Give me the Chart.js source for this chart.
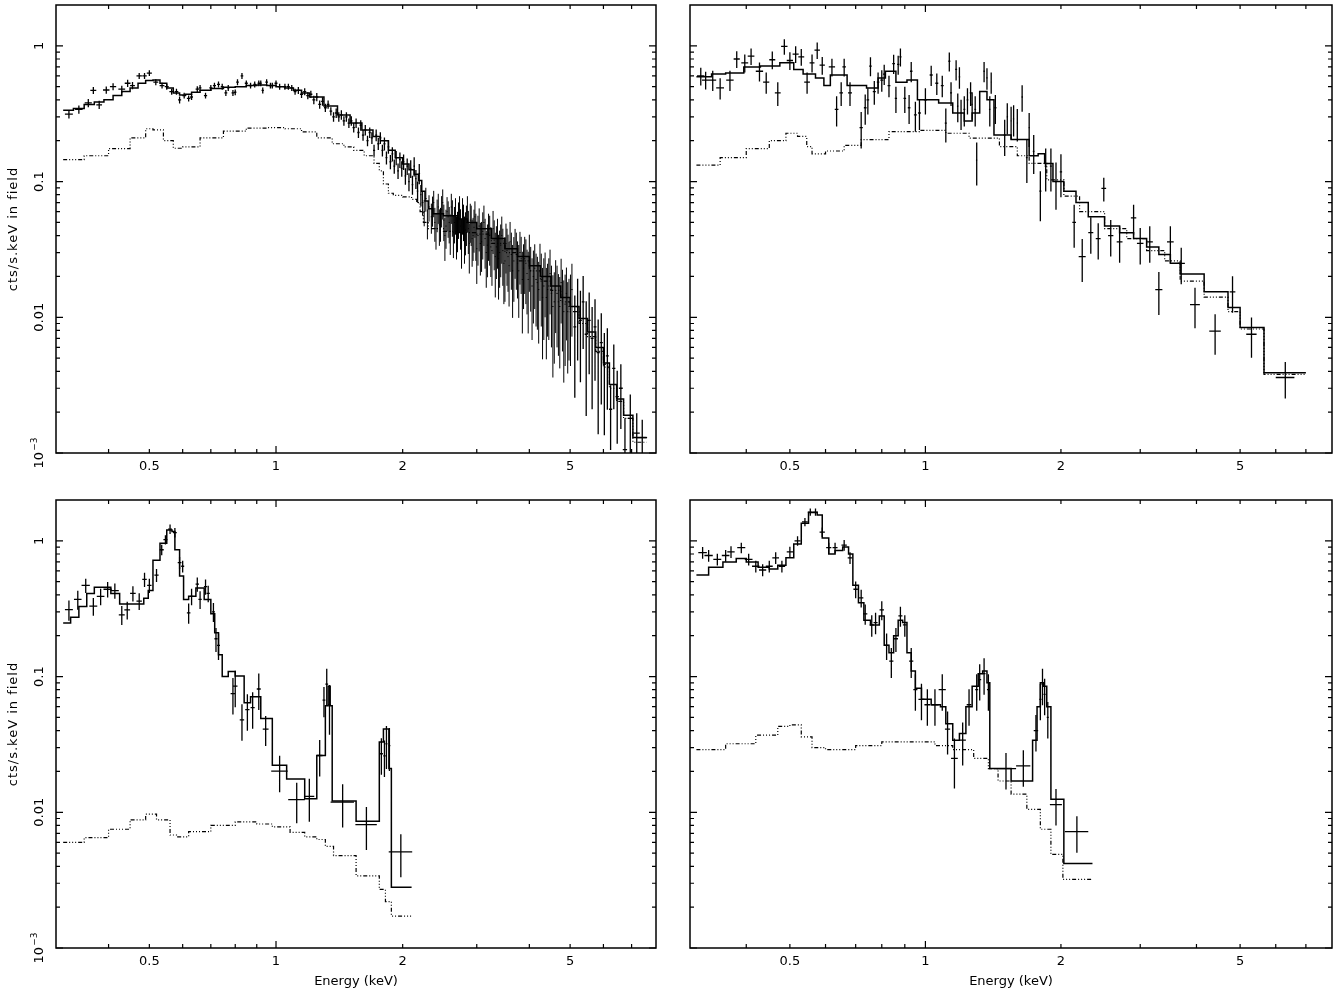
<!DOCTYPE html>
<html><head><meta charset="utf-8">
<script src="https://cdn.jsdelivr.net/npm/chart.js@4.4.1/dist/chart.umd.min.js"></script>
<style>
html,body{margin:0;padding:0;background:#fff;width:1334px;height:992px;overflow:hidden;}
canvas{position:absolute;}
</style></head><body>
<canvas id="c0"></canvas><canvas id="c1"></canvas><canvas id="c2"></canvas><canvas id="c3"></canvas>
<script>
// ---------- axes ----------
const xRange = [0.3, 8];
const yRange = [0.001, 2];
const xTickValues = [0.5, 1, 2, 5];
const xTickLabels = ['0.5', '1', '2', '5'];
const xMinorTicks = [0.4, 0.5, 0.6, 0.7, 0.8, 0.9, 2, 3, 4, 5, 6, 7];
const xMajorTicks = [1];
const yTickValues = [0.001, 0.01, 0.1, 1];
const yTickLabels = ['10|-3', '0.01', '0.1', '1'];
const yTitle = 'cts/s.keV in field';
const xTitle = 'Energy (keV)';

// ---------- top-left panel: [energy, half-width, rate, relative error] ----------
const tlSpectrum = [
[0.322,.007,0.314,.07],[0.340,.007,0.34,.07],[0.358,.007,0.38,.07],[0.368,.006,0.47,.06],[0.380,.006,0.368,.07],
[0.395,.007,0.473,.06],[0.41,.007,0.50,.06],[0.43,.008,0.48,.06],[0.444,.007,0.53,.06],[0.456,.006,0.51,.06],
[0.473,.007,0.60,.05],[0.487,.006,0.60,.05],[0.50,.007,0.63,.05],[0.518,.007,0.54,.05],[0.536,.007,0.51,.05],
[0.55,.006,0.50,.05],[0.565,.007,0.46,.05],[0.58,.006,0.46,.05],[0.59,.005,0.40,.06],[0.605,.006,0.43,.05],
[0.62,.006,0.41,.05],[0.63,.005,0.42,.05],[0.65,.006,0.48,.05],[0.66,.005,0.49,.05],[0.68,.006,0.43,.05],
[0.70,.006,0.49,.05],[0.714,.006,0.51,.05],[0.73,.006,0.52,.05],[0.745,.006,0.50,.05],[0.76,.006,0.45,.05],
[0.77,.005,0.49,.05],[0.79,.006,0.45,.05],[0.80,.005,0.455,.05],[0.81,.006,0.54,.05],[0.83,.006,0.60,.05],
[0.85,.007,0.53,.05],[0.87,.007,0.51,.05],[0.89,.007,0.52,.05],[0.91,.006,0.53,.05],[0.92,.005,0.53,.05],
[0.93,.006,0.47,.05],[0.95,.007,0.54,.05],[0.97,.007,0.51,.05],[0.98,.006,0.51,.05],[1.00,.008,0.53,.05],
[1.02,.008,0.50,.05],[1.05,.009,0.50,.05],[1.07,.009,0.50,.05],[1.09,.009,0.49,.05],[1.11,.009,0.46,.05],
[1.13,.01,0.47,.06],[1.15,.01,0.44,.06],[1.17,.01,0.46,.06],[1.19,.01,0.43,.06],[1.21,.01,0.44,.06],
[1.23,.01,0.40,.07],[1.25,.01,0.42,.07],[1.27,.01,0.37,.07],[1.29,.01,0.39,.07],[1.31,.01,0.35,.07],
[1.33,.01,0.37,.07],[1.35,.01,0.33,.07],[1.37,.01,0.30,.08],[1.39,.01,0.32,.08],[1.41,.01,0.30,.08],
[1.43,.01,0.31,.08],[1.45,.01,0.28,.08],[1.47,.01,0.30,.08],[1.49,.01,0.27,.08],[1.51,.01,0.28,.08],
[1.53,.01,0.25,.08],[1.55,.01,0.27,.08],[1.57,.01,0.23,.09],[1.59,.01,0.26,.09],[1.61,.01,0.22,.09],
[1.63,.01,0.24,.09],[1.65,.01,0.20,.09],[1.67,.01,0.23,.09],[1.69,.01,0.21,.1],[1.71,.01,0.17,.1],
[1.73,.01,0.22,.1],[1.75,.01,0.19,.1],[1.77,.01,0.21,.1],[1.79,.01,0.17,.1],[1.81,.01,0.19,.11],
[1.83,.01,0.15,.11],[1.85,.01,0.18,.11],[1.87,.01,0.14,.12],[1.89,.01,0.16,.12],[1.91,.01,0.13,.12],
[1.93,.01,0.15,.12],[1.95,.01,0.12,.13],[1.97,.01,0.145,.13],[1.99,.01,0.125,.13],[2.01,.01,0.14,.13],
[2.03,.01,0.11,.14],[2.05,.01,0.13,.14],[2.07,.01,0.10,.15],[2.09,.01,0.125,.15],[2.11,.01,0.095,.16],
[2.13,.01,0.13,.16],[2.15,.01,0.105,.16],[2.17,.01,0.085,.18],[2.19,.01,0.115,.17],[2.21,.01,0.08,.18],
[2.23,.01,0.07,.2],[2.25,.01,0.06,.22],[2.27,.01,0.075,.2],[2.29,.01,0.05,.25],[2.31,.01,0.065,.22],
[2.34,.0075,0.055,.25],[2.355,.0075,0.062,.25],[2.37,.0075,0.07,.22],[2.385,.0075,0.05,.28],[2.40,.0075,0.045,.3],
[2.415,.0075,0.058,.27],[2.43,.0075,0.065,.25],[2.445,.0075,0.048,.3],[2.46,.0075,0.05,.28],[2.475,.0075,0.062,.26],
[2.49,.0075,0.07,.25],[2.505,.0075,0.052,.3],[2.52,.0075,0.04,.35],[2.535,.0075,0.047,.32],[2.55,.0075,0.06,.28],
[2.565,.0075,0.055,.3],[2.58,.0075,0.05,.3],[2.595,.0075,0.043,.33],[2.61,.0075,0.065,.25],[2.625,.0075,0.056,.3],
[2.64,.0075,0.042,.35],[2.655,.0075,0.05,.3],[2.67,.0075,0.058,.3],[2.685,.0075,0.041,.35],[2.70,.0075,0.045,.33],
[2.715,.0075,0.054,.3],[2.73,.0075,0.06,.3],[2.745,.0075,0.047,.33],[2.76,.0075,0.038,.4],[2.775,.0075,0.058,.3],
[2.79,.0075,0.052,.3],[2.805,.0075,0.04,.38],[2.82,.0075,0.044,.35],[2.835,.0075,0.05,.33],[2.85,.0075,0.06,.3],
[2.865,.0075,0.045,.35],[2.88,.0075,0.035,.4],[2.895,.0075,0.052,.32],[2.91,.0075,0.05,.33],[2.925,.0075,0.038,.38],
[2.94,.0075,0.04,.35],[2.955,.0075,0.046,.35],[2.97,.0075,0.055,.3],[2.985,.0075,0.042,.38],
[3.00,.01,0.032,.45],[3.02,.01,0.04,.4],[3.04,.01,0.047,.35],[3.06,.01,0.035,.42],[3.08,.01,0.036,.4],
[3.10,.01,0.043,.38],[3.12,.01,0.05,.33],[3.14,.01,0.038,.4],[3.16,.01,0.03,.45],[3.18,.01,0.034,.42],
[3.20,.01,0.042,.38],[3.22,.01,0.04,.4],[3.24,.01,0.033,.4],[3.26,.01,0.031,.45],[3.28,.01,0.045,.35],
[3.30,.01,0.037,.4],[3.32,.01,0.028,.5],[3.34,.01,0.033,.42],[3.36,.01,0.038,.4],[3.38,.01,0.027,.5],
[3.40,.01,0.03,.45],[3.42,.01,0.034,.42],[3.44,.01,0.04,.38],[3.46,.01,0.031,.45],[3.48,.01,0.025,.5],
[3.50,.01,0.026,.5],[3.52,.01,0.035,.4],[3.54,.01,0.031,.45],[3.56,.01,0.028,.45],[3.58,.01,0.024,.5],
[3.60,.01,0.036,.4],[3.625,.012,0.029,.45],[3.65,.012,0.022,.55],[3.675,.012,0.026,.5],[3.70,.012,0.032,.4],
[3.725,.012,0.029,.45],[3.75,.012,0.025,.45],[3.775,.012,0.022,.55],[3.80,.012,0.03,.42],[3.825,.012,0.027,.45],
[3.85,.012,0.019,.6],[3.875,.012,0.023,.5],[3.90,.012,0.027,.45],[3.925,.012,0.025,.5],[3.95,.012,0.021,.5],
[3.975,.012,0.019,.6],[4.00,.012,0.028,.45],[4.03,.015,0.022,.5],[4.06,.015,0.017,.6],[4.09,.015,0.02,.55],
[4.12,.015,0.023,.5],[4.15,.015,0.019,.55],[4.18,.015,0.018,.55],[4.21,.015,0.016,.6],[4.24,.015,0.024,.45],
[4.27,.015,0.019,.55],[4.30,.015,0.014,.65],[4.33,.015,0.017,.6],[4.36,.015,0.02,.5],[4.39,.015,0.014,.65],
[4.42,.015,0.016,.55],[4.45,.015,0.017,.6],[4.48,.015,0.021,.5],[4.515,.017,0.015,.6],[4.55,.017,0.012,.7],
[4.585,.017,0.013,.65],[4.62,.017,0.017,.55],[4.655,.017,0.015,.6],[4.69,.017,0.013,.6],[4.725,.017,0.012,.65],
[4.76,.017,0.018,.5],[4.795,.017,0.014,.6],[4.83,.017,0.011,.7],[4.865,.017,0.0125,.65],[4.90,.017,0.015,.55],
[4.935,.017,0.011,.65],[4.97,.017,0.012,.6],[5.01,.02,0.0125,.65],[5.05,.02,0.016,.55],
[5.13,.04,0.0085,.7],[5.21,.04,0.012,.6],[5.29,.04,0.0095,.65],
[5.37,.04,0.013,.55],[5.46,.045,0.0075,.75],[5.55,.045,0.0095,.6],[5.64,.045,0.007,.7],[5.73,.045,0.0085,.6],
[5.83,.05,0.0055,.75],[5.93,.05,0.0065,.65],[6.03,.05,0.0045,.7],[6.13,.05,0.0052,.6],[6.24,.055,0.0021,.5],
[6.35,.055,0.0042,.5],[6.47,.06,0.0026,.55],[6.6,.07,0.003,.5],[6.75,.08,0.00106,.7],[6.95,.1,0.0018,.5],
[7.2,.12,0.0014,.4],[7.42,.2,0.0013,.35]
];
// model / background: [left bin edge, value] (last row = right end)
const tlModel = [[0.312,0.335],[0.33,0.345],[0.35,0.37],[0.37,0.385],[0.39,0.40],[0.41,0.43],[0.43,0.46],[0.45,0.49],
[0.47,0.53],[0.49,0.555],[0.51,0.56],[0.53,0.53],[0.55,0.49],[0.57,0.45],[0.59,0.435],[0.61,0.44],[0.63,0.455],
[0.66,0.47],[0.70,0.485],[0.75,0.495],[0.80,0.50],[0.85,0.51],[0.90,0.515],[0.95,0.51],[1.00,0.50],[1.05,0.49],
[1.10,0.47],[1.15,0.45],[1.20,0.42],[1.30,0.36],[1.40,0.31],[1.50,0.27],[1.60,0.24],[1.70,0.215],[1.77,0.20],
[1.85,0.17],[1.92,0.15],[2.00,0.135],[2.07,0.122],[2.13,0.113],[2.18,0.102],[2.22,0.085],[2.26,0.072],[2.30,0.063],
[2.36,0.058],[2.50,0.056],[2.70,0.053],[2.85,0.05],[3.00,0.045],[3.25,0.038],[3.50,0.032],[3.75,0.028],[4.00,0.024],
[4.25,0.020],[4.50,0.017],[4.75,0.014],[5.00,0.012],[5.25,0.0098],[5.50,0.0078],[5.75,0.006],[6.00,0.0046],
[6.2,0.0032],[6.45,0.0025],[6.7,0.0019],[7.05,0.0013],[7.6,0.0013]];
const tlBackground = [[0.312,0.145],[0.35,0.155],[0.40,0.175],[0.45,0.21],[0.49,0.245],[0.51,0.24],[0.54,0.20],
[0.57,0.176],[0.60,0.18],[0.66,0.21],[0.75,0.235],[0.85,0.248],[0.95,0.25],[1.05,0.245],[1.15,0.232],[1.25,0.21],
[1.36,0.19],[1.45,0.18],[1.53,0.17],[1.62,0.155],[1.71,0.136],[1.76,0.12],[1.80,0.096],[1.85,0.082],[1.90,0.079],
[2.0,0.077],[2.1,0.074],[2.16,0.07],[2.2,0.06],[2.24,0.05],[2.3,0.045],[2.5,0.043],[2.7,0.042],[3.0,0.041],
[3.25,0.035],[3.5,0.03],[3.75,0.026],[4.0,0.022],[4.25,0.0185],[4.5,0.0158],[4.75,0.013],[5.0,0.011],[5.25,0.009],
[5.5,0.0072],[5.75,0.0056],[6.0,0.0043],[6.2,0.003],[6.45,0.0024],[6.7,0.0018],[7.05,0.0012],[7.6,0.0012]];

// ---------- top-right panel ----------
const trSpectrum = [
[0.317,.006,0.60,.15],[0.325,.006,0.56,.15],[0.337,.006,0.56,.17],[0.35,.007,0.49,.18],[0.368,.007,0.56,.17],
[0.381,.006,0.80,.14],[0.397,.007,0.75,.15],[0.41,.007,0.84,.14],[0.428,.008,0.65,.16],[0.443,.007,0.54,.18],
[0.457,.007,0.79,.15],[0.47,.007,0.45,.2],[0.486,.008,0.99,.13],[0.50,.008,0.78,.15],[0.515,.008,0.87,.14],
[0.53,.008,0.83,.14],[0.546,.008,0.54,.18],[0.56,.007,0.75,.15],[0.575,.008,0.93,.14],[0.59,.008,0.72,.15],
[0.62,.01,0.70,.15],[0.635,.006,0.34,.25],[0.65,.006,0.45,.2],[0.66,.006,0.70,.15],[0.68,.007,0.45,.2],
[0.72,.006,0.25,.3],[0.735,.005,0.35,.25],[0.745,.005,0.40,.22],[0.755,.005,0.71,.16],[0.77,.006,0.46,.2],
[0.785,.005,0.54,.18],[0.80,.006,0.56,.18],[0.81,.005,0.62,.17],[0.83,.006,0.51,.18],[0.85,.006,0.74,.16],
[0.86,.005,0.41,.22],[0.87,.005,0.73,.16],[0.88,.005,0.83,.15],[0.90,.006,0.41,.22],[0.92,.006,0.35,.24],
[0.93,.006,0.65,.17],[0.95,.007,0.31,.25],[0.97,.007,0.32,.25],[1.00,.008,0.40,.22],[1.03,.008,0.61,.17],
[1.06,.008,0.53,.18],[1.09,.008,0.51,.18],[1.11,.006,0.27,.28],[1.13,.006,0.77,.16],[1.14,.006,0.45,.2],
[1.17,.006,0.67,.17],[1.18,.005,0.36,.24],[1.19,.005,0.59,.18],[1.20,.005,0.32,.25],[1.22,.006,0.34,.25],
[1.24,.006,0.40,.22],[1.26,.006,0.45,.2],[1.27,.005,0.37,.23],[1.29,.006,0.34,.25],[1.30,.005,0.144,.35],
[1.35,.006,0.65,.17],[1.37,.006,0.58,.18],[1.39,.006,0.34,.25],[1.40,.005,0.54,.18],[1.43,.008,0.35,.24],
[1.50,.008,0.22,.3],[1.52,.006,0.30,.26],[1.55,.006,0.28,.27],[1.57,.006,0.29,.26],[1.60,.006,0.27,.27],
[1.64,.007,0.42,.22],[1.68,.008,0.15,.35],[1.70,.007,0.25,.28],[1.74,.008,0.167,.32],[1.80,.01,0.085,.4],
[1.85,.01,0.13,.35],[1.90,.01,0.13,.35],[1.95,.01,0.10,.38],[2.00,.012,0.118,.35],[2.14,.02,0.05,.35],
[2.23,.04,0.028,.35],[2.33,.03,0.042,.3],[2.42,.03,0.038,.3],[2.49,.03,0.089,.2],[2.58,.035,0.040,.3],
[2.7,.04,0.036,.3],[2.9,.04,0.054,.25],[3.0,.05,0.035,.3],[3.15,.05,0.036,.3],[3.3,.06,0.016,.35],
[3.5,.06,0.036,.3],[3.7,.07,0.025,.3],[3.97,.1,0.0124,.33],[4.4,.13,0.0079,.33],[4.81,.07,0.0154,.3],
[5.3,.14,0.0075,.33],[6.3,.3,0.0036,.3]
];
const trModel = [[0.31,0.593],[0.335,0.62],[0.36,0.63],[0.395,0.70],[0.43,0.71],[0.475,0.75],[0.51,0.67],[0.535,0.62],
[0.57,0.58],[0.595,0.51],[0.615,0.61],[0.67,0.51],[0.74,0.49],[0.785,0.58],[0.815,0.65],[0.86,0.54],[0.91,0.56],
[0.96,0.40],[1.07,0.38],[1.15,0.32],[1.22,0.28],[1.27,0.32],[1.32,0.46],[1.37,0.40],[1.42,0.22],[1.55,0.204],
[1.70,0.155],[1.78,0.16],[1.84,0.136],[1.92,0.10],[2.03,0.085],[2.16,0.07],[2.3,0.055],[2.5,0.047],[2.7,0.042],
[2.9,0.038],[3.1,0.033],[3.3,0.029],[3.5,0.025],[3.68,0.0208],[4.16,0.0154],[4.7,0.0118],[5.0,0.0084],
[5.65,0.0039],[7.0,0.0039]];
const trBackground = [[0.31,0.132],[0.35,0.15],[0.40,0.175],[0.45,0.2],[0.49,0.227],[0.52,0.215],[0.545,0.181],
[0.56,0.16],[0.60,0.168],[0.66,0.185],[0.72,0.204],[0.83,0.233],[0.97,0.238],[1.11,0.227],[1.25,0.209],[1.46,0.181],
[1.6,0.155],[1.7,0.136],[1.86,0.103],[2.03,0.078],[2.2,0.06],[2.5,0.045],[2.8,0.038],[3.1,0.031],[3.4,0.026],
[3.68,0.0185],[4.16,0.0141],[4.7,0.011],[5.0,0.0082],[5.65,0.0038],[7.0,0.0038]];

// ---------- bottom-left panel ----------
const blSpectrum = [
[0.322,.007,0.311,.17],[0.338,.007,0.37,.16],[0.353,.008,0.47,.12],[0.368,.008,0.33,.15],[0.383,.008,0.39,.14],
[0.398,.009,0.44,.13],[0.414,.009,0.43,.13],[0.43,.007,0.285,.16],[0.443,.007,0.31,.15],[0.457,.007,0.41,.13],
[0.473,.007,0.36,.14],[0.487,.006,0.52,.12],[0.50,.006,0.47,.12],[0.52,.006,0.56,.11],[0.535,.006,0.86,.09],
[0.546,.006,1.02,.08],[0.56,.006,1.22,.08],[0.575,.006,1.15,.08],[0.59,.006,0.69,.1],[0.60,.005,0.65,.1],
[0.62,.006,0.295,.17],[0.63,.006,0.39,.14],[0.65,.006,0.48,.12],[0.66,.006,0.37,.15],[0.68,.006,0.46,.13],
[0.69,.006,0.41,.14],[0.71,.006,0.30,.16],[0.72,.006,0.19,.2],[0.73,.006,0.17,.22],[0.79,.01,0.075,.3],
[0.80,.01,0.085,.3],[0.83,.01,0.048,.3],[0.855,.01,0.057,.3],[0.88,.01,0.059,.3],[0.91,.01,0.081,.3],
[0.945,.015,0.041,.25],[1.02,.046,0.0201,.3],[1.12,.051,0.0124,.33],[1.2,.033,0.0131,.35],[1.27,.02,0.0262,.3],
[1.30,.01,0.067,.25],[1.32,.01,0.088,.3],[1.34,.01,0.062,.4],[1.44,.092,0.0119,.35],[1.64,.096,0.0081,.35],
[1.78,.015,0.027,.3],[1.81,.012,0.026,.3],[1.83,.01,0.032,.35],[1.86,.01,0.031,.35],[1.98,.127,0.0051,.35]
];
const blModel = [[0.312,0.248],[0.325,0.274],[0.34,0.329],[0.355,0.41],[0.37,0.455],[0.405,0.41],[0.425,0.343],
[0.485,0.378],[0.497,0.43],[0.51,0.72],[0.53,0.96],[0.55,1.2],[0.566,1.17],[0.575,0.86],[0.59,0.55],[0.603,0.37],
[0.62,0.39],[0.645,0.45],[0.675,0.37],[0.70,0.29],[0.715,0.21],[0.73,0.145],[0.745,0.10],[0.77,0.109],[0.80,0.101],
[0.84,0.064],[0.87,0.071],[0.92,0.049],[0.98,0.0222],[1.06,0.0176],[1.17,0.0126],[1.25,0.0262],[1.31,0.061],
[1.33,0.085],[1.345,0.061],[1.36,0.0121],[1.55,0.0086],[1.76,0.033],[1.80,0.041],[1.855,0.021],[1.88,0.0028],
[2.10,0.0028]];
const blBackground = [[0.312,0.006],[0.35,0.0065],[0.40,0.0075],[0.45,0.0088],[0.49,0.0097],[0.52,0.0088],
[0.56,0.0068],[0.58,0.0066],[0.62,0.0072],[0.70,0.0080],[0.80,0.0085],[0.90,0.0082],[0.98,0.0078],[1.08,0.0071],
[1.17,0.0066],[1.25,0.0063],[1.31,0.0056],[1.37,0.0048],[1.55,0.0034],[1.76,0.0027],[1.82,0.0022],[1.88,0.00172],
[2.10,0.00172]];

// ---------- bottom-right panel ----------
const brSpectrum = [
[0.32,.007,0.82,.1],[0.33,.007,0.78,.1],[0.345,.007,0.73,.1],[0.36,.007,0.78,.1],[0.37,.007,0.83,.1],
[0.39,.008,0.89,.09],[0.405,.008,0.73,.1],[0.42,.008,0.65,.1],[0.435,.008,0.61,.1],[0.45,.008,0.65,.1],
[0.465,.008,0.75,.1],[0.48,.008,0.65,.1],[0.50,.008,0.83,.09],[0.52,.008,1.0,.08],[0.54,.008,1.38,.07],
[0.555,.007,1.63,.06],[0.57,.007,1.63,.06],[0.59,.008,1.16,.08],[0.61,.008,0.89,.09],[0.63,.008,0.89,.09],
[0.66,.009,0.93,.09],[0.68,.008,0.75,.1],[0.70,.008,0.44,.14],[0.72,.008,0.38,.15],[0.735,.008,0.29,.17],
[0.76,.008,0.24,.18],[0.775,.008,0.25,.18],[0.80,.009,0.31,.16],[0.82,.009,0.17,.22],[0.84,.009,0.13,.25],
[0.86,.009,0.19,.2],[0.88,.009,0.28,.17],[0.90,.009,0.24,.18],[0.93,.01,0.13,.25],[0.95,.01,0.08,.3],
[0.98,.015,0.068,.3],[1.01,.015,0.062,.3],[1.05,.02,0.062,.3],[1.09,.02,0.08,.3],[1.12,.015,0.041,.35],
[1.16,.02,0.025,.4],[1.21,.02,0.034,.35],[1.25,.015,0.062,.3],[1.30,.01,0.08,.3],[1.32,.01,0.095,.3],
[1.35,.01,0.105,.3],[1.38,.01,0.08,.3],[1.51,.08,0.021,.3],[1.65,.06,0.022,.3],[1.76,.02,0.04,.3],
[1.80,.01,0.068,.3],[1.82,.01,0.088,.3],[1.84,.01,0.074,.3],[1.87,.01,0.05,.3],[1.95,.06,0.0114,.3],
[2.17,.13,0.0072,.3]
];
const brModel = [[0.31,0.56],[0.33,0.64],[0.355,0.70],[0.38,0.74],[0.40,0.70],[0.425,0.64],[0.45,0.62],[0.47,0.66],
[0.49,0.75],[0.51,0.95],[0.53,1.35],[0.55,1.62],[0.575,1.55],[0.59,1.05],[0.61,0.80],[0.63,0.85],[0.655,0.90],
[0.675,0.80],[0.69,0.47],[0.71,0.35],[0.73,0.26],[0.755,0.24],[0.79,0.28],[0.81,0.17],[0.83,0.15],[0.85,0.20],
[0.87,0.26],[0.89,0.25],[0.91,0.15],[0.93,0.11],[0.95,0.082],[0.98,0.068],[1.03,0.062],[1.08,0.06],[1.11,0.045],
[1.15,0.034],[1.19,0.038],[1.23,0.06],[1.27,0.085],[1.31,0.105],[1.34,0.11],[1.37,0.09],[1.39,0.021],[1.55,0.017],
[1.73,0.034],[1.77,0.06],[1.80,0.09],[1.83,0.085],[1.86,0.06],[1.90,0.0125],[2.03,0.0042],[2.35,0.0042]];
const brBackground = [[0.31,0.029],[0.36,0.032],[0.42,0.037],[0.47,0.043],[0.50,0.044],[0.53,0.036],[0.56,0.03],
[0.60,0.029],[0.70,0.031],[0.80,0.033],[0.92,0.033],[1.05,0.031],[1.15,0.029],[1.28,0.025],[1.38,0.021],[1.45,0.017],
[1.55,0.0136],[1.68,0.0105],[1.80,0.0075],[1.90,0.0049],[2.02,0.0032],[2.35,0.0032]];

// ---------- layout: plot-area boxes [left, top, right, bottom] ----------
const panels = [
  {id:'c0', box:[56,5,656,453],  spec:tlSpectrum, model:tlModel, bg:tlBackground, yLab:true,  xTit:false, fineBins:true},
  {id:'c1', box:[690,5,1332,453], spec:trSpectrum, model:trModel, bg:trBackground, yLab:false, xTit:false, fineBins:false},
  {id:'c2', box:[56,500,656,948], spec:blSpectrum, model:blModel, bg:blBackground, yLab:true,  xTit:true, fineBins:false},
  {id:'c3', box:[690,500,1332,948], spec:brSpectrum, model:brModel, bg:brBackground, yLab:false, xTit:true, fineBins:false}
];

Chart.defaults.font.family = "'DejaVu Sans', sans-serif";
Chart.defaults.color = '#000';

const LEFTW = 56, TOPP = 5, RIGHTP = 3, BOTH = 48;

function makePlugin(p){
  return {
    id:'xspecDecor',
    afterDatasetsDraw(chart){
      const ctx = chart.ctx, a = chart.chartArea;
      const xs = chart.scales.x, ys = chart.scales.y;
      ctx.save();
      ctx.beginPath(); ctx.rect(a.left, a.top, a.right-a.left, a.bottom-a.top); ctx.clip();
      [true, false].forEach(thin => {
        ctx.strokeStyle = '#000';
        ctx.lineWidth = thin ? 1.0 : 1.3;
        ctx.beginPath();
        for (const d of p.spec){
          const [e, de, r, rel] = d;
          const isThin = p.fineBins && (de/e < 0.0045);
          if (isThin !== thin) continue;
          const x0 = xs.getPixelForValue(e-de), x1 = xs.getPixelForValue(e+de), xc = xs.getPixelForValue(e);
          const yc = ys.getPixelForValue(r);
          const lo = Math.max(r*(1-rel), 1e-6), hi = r*(1+rel);
          const yl = ys.getPixelForValue(lo), yh = ys.getPixelForValue(hi);
          ctx.moveTo(x0, yc); ctx.lineTo(x1, yc);
          ctx.moveTo(xc, yh); ctx.lineTo(xc, yl);
        }
        ctx.stroke();
      });
      ctx.restore();
    },
    afterDraw(chart){
      const ctx = chart.ctx, a = chart.chartArea;
      const xs = chart.scales.x, ys = chart.scales.y;
      ctx.save();
      ctx.strokeStyle = '#000'; ctx.lineWidth = 1.5;
      ctx.strokeRect(a.left, a.top, a.right-a.left, a.bottom-a.top);
      ctx.lineWidth = 1.2;
      ctx.beginPath();
      const xt = (v, len) => { const x = xs.getPixelForValue(v);
        ctx.moveTo(x, a.bottom); ctx.lineTo(x, a.bottom-len);
        ctx.moveTo(x, a.top); ctx.lineTo(x, a.top+len); };
      xMinorTicks.forEach(v => xt(v, 4));
      xMajorTicks.forEach(v => xt(v, 7));
      const yt = (v, len) => { const y = ys.getPixelForValue(v);
        ctx.moveTo(a.left, y); ctx.lineTo(a.left+len, y);
        ctx.moveTo(a.right, y); ctx.lineTo(a.right-len, y); };
      yTickValues.forEach(dec => {
        yt(dec, 7);
        for (let k=2;k<=9;k++){ const v=k*dec; if (v < yRange[1]*0.999) yt(v, 4); }
      });
      ctx.stroke();
      if (p.yLab){
        ctx.fillStyle = '#000';
        ctx.save();
        ctx.translate(14, (a.top + a.bottom)/2);
        ctx.rotate(-Math.PI/2);
        ctx.font = "13px 'DejaVu Sans'";
        ctx.letterSpacing = '1px';
        ctx.textAlign = 'center'; ctx.textBaseline = 'middle';
        ctx.fillText(yTitle, 0, 0);
        ctx.restore();
        yTickValues.forEach((v,i) => {
          const y = ys.getPixelForValue(v);
          const lab = yTickLabels[i];
          ctx.save();
          ctx.translate(40, y);
          ctx.rotate(-Math.PI/2);
          ctx.textBaseline = 'middle';
          if (lab.indexOf('|') >= 0){
            const [base, sup] = lab.split('|');
            ctx.font = "13px 'DejaVu Sans'";
            const wb = ctx.measureText(base).width;
            ctx.font = "9px 'DejaVu Sans'";
            const supTxt = '\u2212' + sup.replace('-','');
            const ws = ctx.measureText(supTxt).width;
            const w = wb + ws + 1;
            ctx.textAlign = 'left';
            ctx.font = "13px 'DejaVu Sans'";
            ctx.fillText(base, -w/2, 0);
            ctx.font = "9px 'DejaVu Sans'";
            ctx.fillText(supTxt, -w/2 + wb + 1, -5);
          } else {
            ctx.font = "13px 'DejaVu Sans'";
            ctx.textAlign = 'center';
            ctx.fillText(lab, 0, 0);
          }
          ctx.restore();
        });
      }
      ctx.restore();
    }
  };
}

function makeChart(p){
  const [L,T,R,B] = p.box;
  const W = R-L, H = B-T;
  const cv = document.getElementById(p.id);
  const cw = W + LEFTW + RIGHTP, ch = H + TOPP + BOTH;
  cv.width = cw; cv.height = ch;
  cv.style.left = (L-LEFTW)+'px'; cv.style.top = (T-TOPP)+'px';
  cv.style.width = cw+'px'; cv.style.height = ch+'px';
  const toXY = arr => arr.map(d => ({x:d[0], y:d[1]}));
  new Chart(cv, {
    type:'line',
    data:{datasets:[
      {label:'model', data:toXY(p.model), stepped:true, borderColor:'#000', borderWidth:1.5, pointRadius:0, fill:false, tension:0},
      {label:'background', data:toXY(p.bg), stepped:true, borderColor:'#000', borderWidth:1.2, borderDash:[4,2,1,2,1,2,1,2], pointRadius:0, fill:false, tension:0},
      {label:'data', data:p.spec.map(d=>({x:d[0], y:d[2]})), showLine:false, pointRadius:0}
    ]},
    options:{
      responsive:false, animation:false, devicePixelRatio:1,
      layout:{padding:{left:0, top:TOPP, right:RIGHTP, bottom:0}},
      plugins:{legend:{display:false}, tooltip:{enabled:false}},
      scales:{
        x:{type:'logarithmic', min:xRange[0], max:xRange[1], position:'bottom',
           grid:{display:false, drawTicks:false}, border:{display:false},
           afterBuildTicks: s => { s.ticks = xTickValues.map(v=>({value:v})); },
           afterFit: s => { s.height = BOTH; },
           ticks:{autoSkip:false, maxRotation:0, minRotation:0, padding:6, font:{size:13},
                  callback:(v,i)=> xTickLabels[i]},
           title:{display:p.xTit, text:xTitle, font:{size:13}, padding:{top:0,bottom:7}}},
        y:{type:'logarithmic', min:yRange[0], max:yRange[1], position:'left',
           grid:{display:false, drawTicks:false}, border:{display:false},
           afterBuildTicks: s => { s.ticks = yTickValues.map(v=>({value:v})); },
           afterFit: s => { s.width = LEFTW; },
           ticks:{display:false},
           title:{display:false}}
      }
    },
    plugins:[makePlugin(p)]
  });
}
panels.forEach(makeChart);
</script>
</body></html>
